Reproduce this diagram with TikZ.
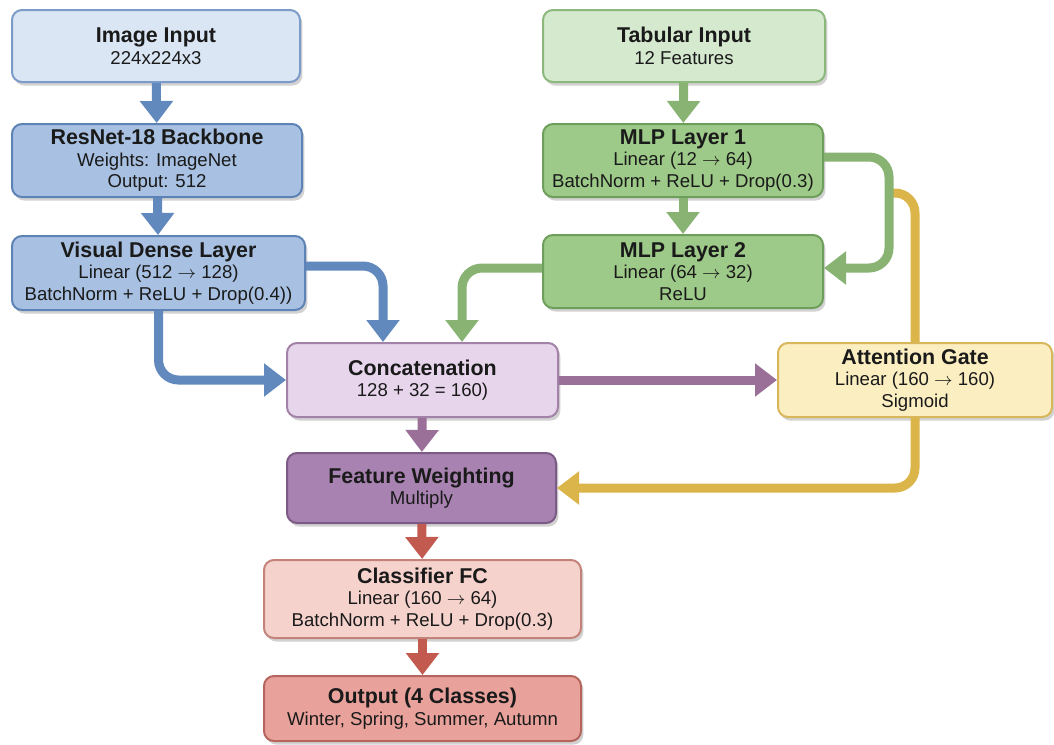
\documentclass[tikz,border=0pt]{standalone}
\usepackage{fontspec}
\setmainfont{Liberation Sans}
\usetikzlibrary{arrows.meta,shadows}
\definecolor{txt}{HTML}{1A1A1A}
\definecolor{bluefillA}{HTML}{DBE6F4}\definecolor{bluedrawA}{HTML}{7B9CC8}
\definecolor{bluefillB}{HTML}{A8C1E2}\definecolor{bluedrawB}{HTML}{5D82B5}
\definecolor{greenfillA}{HTML}{D5E9CF}\definecolor{greendrawA}{HTML}{8CB87C}
\definecolor{greenfillB}{HTML}{9DCA88}\definecolor{greendrawB}{HTML}{6D9F5B}
\definecolor{purpfillA}{HTML}{E7D6EB}\definecolor{purpdrawA}{HTML}{A282A8}
\definecolor{purpfillB}{HTML}{A882B0}\definecolor{purpdrawB}{HTML}{7B5B85}
\definecolor{yelfill}{HTML}{FBEFC2}\definecolor{yeldraw}{HTML}{D8B65A}
\definecolor{redfillA}{HTML}{F6D2CC}\definecolor{reddrawA}{HTML}{C3837A}
\definecolor{redfillB}{HTML}{E8A29B}\definecolor{reddrawB}{HTML}{B5655D}
\definecolor{blueline}{HTML}{6189BE}
\definecolor{greenline}{HTML}{88B373}
\definecolor{purpline}{HTML}{9A7099}
\definecolor{yelline}{HTML}{DCB54A}
\definecolor{redline}{HTML}{C25A50}
\newcommand{\boxtitle}[1]{{\fontsize{10.7}{12}\selectfont\bfseries #1}}
\newcommand{\arr}{\ensuremath{\rightarrow}}
\tikzset{
  box/.style={draw, line width=1pt, rounded corners=5pt, align=center, inner sep=0pt,
    text=txt, font=\fontsize{9.3}{10.8}\selectfont,
    drop shadow={opacity=0.25, shadow xshift=1.2pt, shadow yshift=-1.8pt, fill=black!70}},
  conn/.style={line width=4.5pt, rounded corners=10pt, -{Triangle[width=16pt,length=11pt]}},
  plainconn/.style={line width=4.5pt, rounded corners=10pt},
}
\begin{document}
\begin{tikzpicture}[x=0.5pt,y=-0.5pt]
\useasboundingbox[fill=white] (0,0) rectangle (1054,744);
% nodes
\node[box, fill=bluefillA, draw=bluedrawA, minimum width=144pt, minimum height=36pt] (img) at (156,46) {\boxtitle{Image Input}\\224x224x3};
\node[box, fill=bluefillB, draw=bluedrawB, minimum width=145pt, minimum height=36.5pt] (res) at (157,160.5) {\boxtitle{ResNet-18 Backbone}\\Weights: ImageNet\\Output: 512};
\node[box, fill=bluefillB, draw=bluedrawB, minimum width=146.5pt, minimum height=37pt] (vis) at (158.5,273) {\boxtitle{Visual Dense Layer}\\Linear (512 \arr{} 128)\\BatchNorm + ReLU + Drop(0.4))};
\node[box, fill=greenfillA, draw=greendrawA, minimum width=141pt, minimum height=36pt] (tab) at (684,46) {\boxtitle{Tabular Input}\\12 Features};
\node[box, fill=greenfillB, draw=greendrawB, minimum width=140pt, minimum height=36.5pt] (mlpa) at (683,160.5) {\boxtitle{MLP Layer 1}\\Linear (12 \arr{} 64)\\BatchNorm + ReLU + Drop(0.3)};
\node[box, fill=greenfillB, draw=greendrawB, minimum width=140pt, minimum height=36.5pt] (mlpb) at (683,271.5) {\boxtitle{MLP Layer 2}\\Linear (64 \arr{} 32)\\ReLU};
\node[box, fill=purpfillA, draw=purpdrawA, minimum width=135.5pt, minimum height=37pt] (cat) at (422.5,380) {\boxtitle{Concatenation}\\128 + 32 = 160)};
\node[box, fill=yelfill, draw=yeldraw, minimum width=137pt, minimum height=37pt] (att) at (915,380) {\boxtitle{Attention Gate}\\Linear (160 \arr{} 160)\\Sigmoid};
\node[box, fill=purpfillB, draw=purpdrawB, minimum width=134.5pt, minimum height=35pt] (fw) at (421.5,488) {\boxtitle{Feature Weighting}\\Multiply};
\node[box, fill=redfillA, draw=reddrawA, minimum width=158.5pt, minimum height=39pt] (cls) at (422.5,599) {\boxtitle{Classifier FC}\\Linear (160 \arr{} 64)\\BatchNorm + ReLU + Drop(0.3)};
\node[box, fill=redfillB, draw=reddrawB, minimum width=158.5pt, minimum height=32.5pt] (out) at (422.5,708.5) {\boxtitle{Output (4 Classes)}\\Winter, Spring, Summer, Autumn};
\coordinate (yj) at (888,193);
% connectors
\draw[conn, blueline] (img) -- (res);
\draw[conn, blueline] (res) -- (vis);
\draw[conn, blueline] ([yshift=3.5pt]vis.east) -| ([xshift=-19.75pt]cat.north);
\draw[conn, blueline] (vis.south) |- (cat.west);
\draw[conn, greenline] (tab) -- (mlpa);
\draw[conn, greenline] (mlpa) -- (mlpb);
\draw[plainconn, yelline] (yj) -| (att.north);
\draw[conn, greenline] ([yshift=1.75pt]mlpa.east) -- ++(65,0) |- ([yshift=1.75pt]mlpb.east);
\draw[conn, greenline] ([yshift=1.75pt]mlpb.west) -| ([xshift=19.75pt]cat.north);
\draw[conn, purpline] (cat) -- (att);
\draw[conn, purpline] (cat) -- (fw);
\draw[conn, yelline] (att.south) |- (fw.east);
\draw[conn, redline] (fw) -- (cls);
\draw[conn, redline] (cls) -- (out);
\end{tikzpicture}
\end{document}
